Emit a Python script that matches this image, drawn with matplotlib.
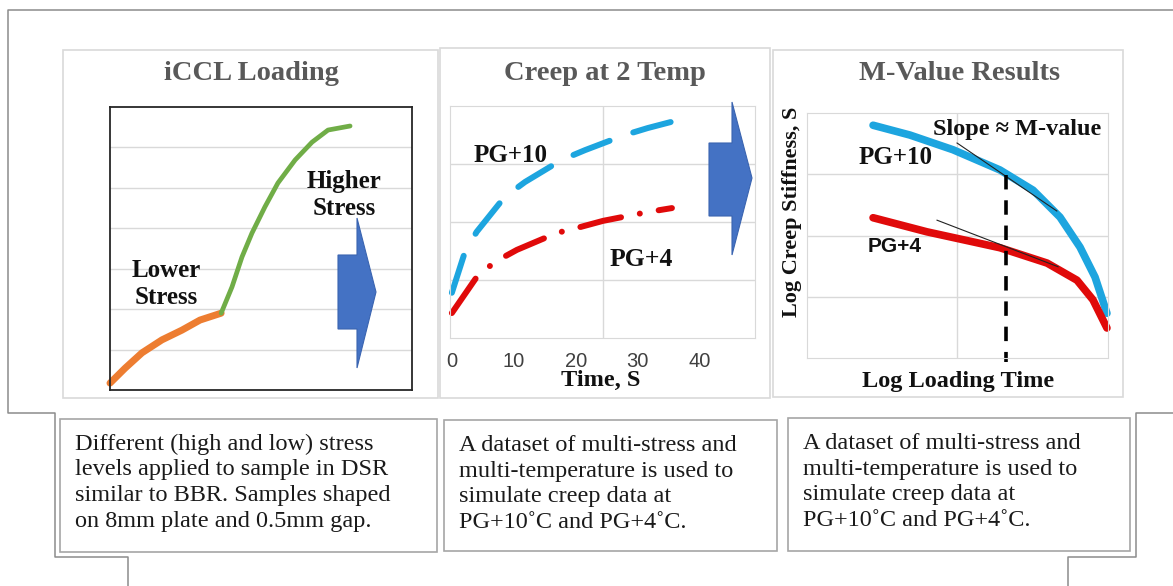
import matplotlib.pyplot as plt
from matplotlib.patches import Polygon, Rectangle

# ---- data ----
# panel 1: iCCL loading curve, x 0..1, y 0..7
low_x = [0.0, 0.050, 0.106, 0.172, 0.238, 0.298, 0.368]
low_y = [0.17, 0.54, 0.92, 1.24, 1.48, 1.73, 1.90]
high_x = [0.368, 0.404, 0.437, 0.470, 0.513, 0.556, 0.613, 0.669, 0.722, 0.795]
high_y = [1.90, 2.55, 3.29, 3.88, 4.53, 5.12, 5.69, 6.13, 6.43, 6.53]

# panel 2: creep at two temperatures, time in s
time_10 = [0, 2.1, 4.0, 8.5, 11.8, 17.7, 21.5, 27.9, 31.6, 38.4]
creep_10 = [0.78, 1.48, 1.83, 2.43, 2.69, 3.07, 3.24, 3.50, 3.62, 3.81]
time_4 = [0, 4.0, 6.9, 10.5, 16.9, 20.6, 24.4, 31.5, 35.5]
creep_4 = [0.43, 1.05, 1.31, 1.52, 1.81, 1.91, 2.02, 2.17, 2.24]
time_ticks = [0, 10, 20, 30, 40]

# panel 3: log stiffness vs log time
logt_10 = [0.439, 0.684, 0.970, 1.282, 1.502, 1.681, 1.814, 1.914, 1.993]
logs_10 = [3.80, 3.64, 3.40, 3.07, 2.74, 2.30, 1.81, 1.32, 0.73]
logt_4 = [0.439, 0.797, 1.282, 1.595, 1.794, 1.900, 1.993]
logs_4 = [2.29, 2.06, 1.80, 1.55, 1.27, 0.95, 0.49]
tangent_10 = ([0.997, 1.66], [3.51, 2.40])
tangent_4 = ([0.864, 1.668], [2.25, 1.49])
m_time = 1.32

notes = [
    ["Different (high and low) stress", "levels applied to sample in DSR",
     "similar to BBR. Samples shaped", "on 8mm plate and 0.5mm gap."],
    ["A dataset of multi-stress and", "multi-temperature is used to",
     "simulate creep data at", "PG+10\u02daC and PG+4\u02daC."],
    ["A dataset of multi-stress and", "multi-temperature is used to",
     "simulate creep data at", "PG+10\u02daC and PG+4\u02daC."],
]

W, H = 1173, 586
SERIF = ['Liberation Serif', 'DejaVu Serif']
SANS = ['Liberation Sans', 'DejaVu Sans']
BLUE = '#1DA5DF'
RED = '#E00A0A'
ARROW = '#4472C4'

fig = plt.figure(figsize=(W / 100, H / 100), dpi=100)


def rect(x0, y0, x1, y1):
    return [x0 / W, 1 - y1 / H, (x1 - x0) / W, (y1 - y0) / H]


bg = fig.add_axes([0, 0, 1, 1], zorder=0)
bg.set_xlim(0, W)
bg.set_ylim(H, 0)
bg.axis('off')

""" outer frame and panel borders """
frame_col = '#8c8c8c'
bg.plot([W, 8, 8, 55, 55, 128, 128], [10, 10, 413, 413, 557, 557, H], color=frame_col, lw=1.1)
bg.plot([W, 1136, 1136, 1068, 1068], [413, 413, 557, 557, H], color=frame_col, lw=1.1)
for x0, y0, x1, y1 in [(63, 50, 438, 398), (440, 48, 770, 398), (773, 50, 1123, 397)]:
    bg.add_patch(Rectangle((x0, y0), x1 - x0, y1 - y0, fill=False, ec='#d9d9d9', lw=1.2))

""" text boxes """
boxes = [(60, 419, 437, 552), (444, 420, 777, 551), (788, 418, 1130, 551)]
for (x0, y0, x1, y1), lines in zip(boxes, notes):
    bg.add_patch(Rectangle((x0, y0), x1 - x0, y1 - y0, fill=False, ec='#a6a6a6', lw=1.2))
    for i, line in enumerate(lines):
        bg.text(x0 + 15, y0 + 31 + i * 25.5, line, family=SERIF, fontsize=17.5,
                color='#1a1a1a', va='baseline', ha='left')

""" titles """
for cx, title in [(251, 'iCCL Loading'), (605, 'Creep at 2 Temp'), (960, 'M-Value Results')]:
    bg.text(cx, 73, title, family=SERIF, fontsize=20.5, weight='bold',
            color='#595959', ha='center', va='center')

""" panel 1 """
ax1 = fig.add_axes(rect(110, 107, 412, 390), zorder=2)
ax1.set_xlim(0, 1)
ax1.set_ylim(0, 7)
ax1.set_yticks(range(1, 7))
ax1.set_xticks([])
ax1.grid(axis='y', color='#d9d9d9', lw=1)
ax1.tick_params(length=0, labelleft=False)
for s in ax1.spines.values():
    s.set_color('#262626')
    s.set_linewidth(1.3)
ax1.plot(low_x, low_y, color='#ED7D31', lw=5, solid_capstyle='round', solid_joinstyle='round',
         clip_on=False)
ax1.plot(high_x, high_y, color='#70AD47', lw=3.4, solid_capstyle='round', solid_joinstyle='round',
         clip_on=False)

""" panel 2 """
ax2 = fig.add_axes(rect(450, 106, 755, 338), zorder=2)
ax2.set_xlim(-0.3, 48.9)
ax2.set_ylim(0, 4)
ax2.set_yticks(range(1, 4))
ax2.set_xticks(time_ticks)
ax2.set_xticks([sum(ax2.get_xlim()) / 2], minor=True)
ax2.grid(axis='y', color='#d9d9d9', lw=1)
ax2.grid(axis='x', which='minor', color='#d9d9d9', lw=1)
ax2.tick_params(which='both', length=0, labelleft=False)
ax2.tick_params(axis='x', labelsize=14.5, labelcolor='#404040', pad=10)
for lab in ax2.get_xticklabels():
    lab.set_family(SANS)
for s in ax2.spines.values():
    s.set_color('#d9d9d9')
ax2.plot(time_10, creep_10, color=BLUE, lw=4.3, ls=(0, (6.5, 4.2)), dash_capstyle='round',
         clip_on=False)
ax2.plot(time_4, creep_4, color=RED, lw=4.3, ls=(0, (7, 3.2, 0.01, 3.2)),
         dash_capstyle='round', clip_on=False)

""" panel 3 """
ax3 = fig.add_axes(rect(807, 113, 1108, 358), zorder=2)
ax3.set_xlim(0, 2)
ax3.set_ylim(0, 4)
ax3.set_yticks(range(1, 4))
ax3.set_xticks([1])
ax3.grid(color='#d9d9d9', lw=1)
ax3.tick_params(length=0, labelleft=False, labelbottom=False)
for s in ax3.spines.values():
    s.set_color('#d9d9d9')
ax3.plot(logt_10, logs_10, color=BLUE, lw=5.5, solid_capstyle='round', solid_joinstyle='round',
         clip_on=False)
ax3.plot(logt_4, logs_4, color=RED, lw=5.5, solid_capstyle='round', solid_joinstyle='round',
         clip_on=False)
ax3.plot(*tangent_10, color='#222222', lw=0.8)
ax3.plot(*tangent_4, color='#222222', lw=0.8)
ax3.plot([m_time, m_time], [2.99, -0.07], color='black', lw=2.6, ls=(0, (4, 3)), clip_on=False)

""" overlay: arrows and labels """
fg = fig.add_axes([0, 0, 1, 1], zorder=5)
fg.set_xlim(0, W)
fg.set_ylim(H, 0)
fg.axis('off')
fg.patch.set_alpha(0)
fg.add_patch(Polygon([(338, 255), (357, 255), (357, 218), (376, 292), (357, 368), (357, 329),
                      (338, 329)], closed=True, fc=ARROW, ec='#3a64b0', lw=0.8))
fg.add_patch(Polygon([(709, 143), (732, 143), (732, 102), (752, 178), (732, 255), (732, 216),
                      (709, 216)], closed=True, fc=ARROW, ec='#3a64b0', lw=0.8))

bold = dict(family=SERIF, weight='bold', color='#111111', ha='center', va='center')
fg.text(166, 284, 'Lower\nStress', fontsize=18, linespacing=1.2, **bold)
fg.text(344, 195, 'Higher\nStress', fontsize=18, linespacing=1.2, **bold)
fg.text(511, 155, 'PG+10', fontsize=18, **bold)
fg.text(641, 260, 'PG+4', fontsize=18.5, **bold)
fg.text(601, 380, 'Time, S', fontsize=17.5, **bold)
fg.text(1017, 130, 'Slope \u2248 M-value', fontsize=17.5, **bold)
fg.text(896, 158, 'PG+10', fontsize=18, **bold)
fg.text(895, 247, 'PG+4', fontsize=15, family=SANS,
        weight='bold', color='#111111', ha='center', va='center')
fg.text(958, 382, 'Log Loading Time', fontsize=17.5, **bold)
fg.text(792, 212, 'Log Creep Stiffness, S', fontsize=16, rotation=90, **bold)

fig.savefig('out.png', dpi=100)
